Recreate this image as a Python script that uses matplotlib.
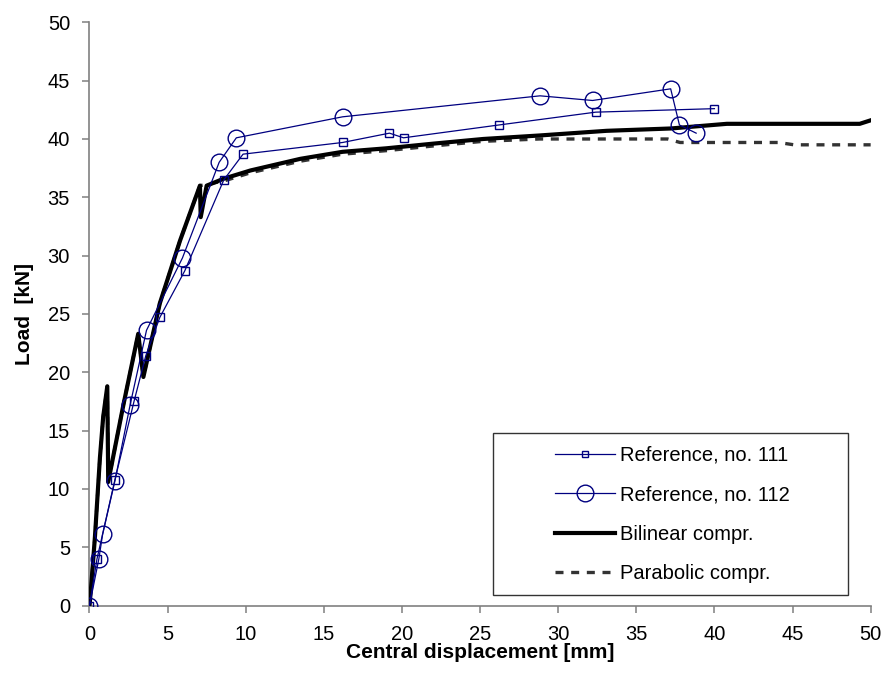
import numpy as np
import matplotlib.pyplot as plt
from matplotlib.patches import Rectangle
from matplotlib.lines import Line2D

plt.rcParams['font.family'] = ['Liberation Sans', 'DejaVu Sans']

# Ensayo de referencia no. 111 (cuadrados)
x111 = [0, 0.48, 1.63, 2.85, 3.6, 4.5, 6.1, 8.6, 9.83, 16.2, 19.2, 20.1, 26.2, 32.4, 40.0]
y111 = [0, 4.0, 10.8, 17.5, 21.4, 24.7, 28.7, 36.5, 38.7, 39.7, 40.5, 40.1, 41.2, 42.3, 42.6]

# Ensayo de referencia no. 112 (circulos)
x112 = [0, 0.6, 0.84, 1.63, 2.6, 3.65, 5.95, 8.3, 9.4, 16.2, 28.84, 32.2, 37.2, 37.76, 38.83]
y112 = [0, 4.0, 6.1, 10.7, 17.2, 23.6, 29.8, 38.0, 40.1, 41.9, 43.7, 43.3, 44.3, 41.2, 40.5]

# Modelo con compresion bilineal
x_bil = [0, 0.1, 0.35, 0.67, 0.88, 1.14, 1.2, 2.17, 3.12, 3.45, 4.5, 5.8, 7.07, 7.12, 7.5,
         8.6, 10.3, 13.5, 16.2, 19.0, 22.0, 25.2, 28.8, 33.1, 37.2, 40.8, 45.0, 49.3, 50.0]
y_bil = [0, 1.5, 5.9, 12.7, 16.2, 18.8, 10.6, 17.2, 23.3, 19.6, 25.9, 31.3, 36.0, 33.3, 36.0,
         36.6, 37.3, 38.3, 38.9, 39.2, 39.6, 40.0, 40.3, 40.7, 40.9, 41.3, 41.3, 41.3, 41.6]

# Modelo con compresion parabolica
x_par = [0, 0.1, 0.35, 0.67, 0.88, 1.14, 1.2, 2.17, 3.12, 3.45, 4.5, 5.8, 7.07,
         8.6, 10.3, 13.5, 16.2, 19.0, 22.0, 25.2, 28.8, 33.1, 37.0, 37.8, 44.1, 45.1, 50.0]
y_par = [0, 1.5, 5.9, 12.7, 16.2, 18.8, 10.6, 17.2, 23.3, 19.6, 25.9, 31.3, 36.0,
         36.4, 37.1, 38.1, 38.7, 39.0, 39.4, 39.8, 40.0, 40.0, 40.0, 39.7, 39.7, 39.5, 39.5]

azul = '#000080'
gris = '#808080'
guion = (0, (2.4, 2.3))

fig = plt.figure(figsize=(8.85, 6.89), dpi=100)
ax = fig.add_axes([0.1011, 0.121, 0.8827, 0.8466])

ax.plot(x_par, y_par, color='#333333', lw=2.4, ls=guion, zorder=2)
ax.plot(x_bil, y_bil, color='black', lw=3.0, zorder=3)
ax.plot(x111, y111, color=azul, lw=0.9, marker='s', ms=6, mfc='none', mec=azul, mew=1.0, zorder=4)
ax.plot(x112, y112, color=azul, lw=0.9, marker='o', ms=12, mfc='none', mec=azul, mew=1.0, zorder=4)

ax.set_xlim(0, 50)
ax.set_ylim(0, 50)
ax.set_xticks(np.arange(0, 51, 5))
ax.set_yticks(np.arange(0, 51, 5))
for s in ['top', 'right']:
    ax.spines[s].set_visible(False)
for s in ['left', 'bottom']:
    ax.spines[s].set_color(gris)
    ax.spines[s].set_linewidth(1.2)
ax.tick_params(direction='out', length=5, width=1.1, color=gris, labelsize=14.5, pad=9)

ax.set_xlabel('Central displacement [mm]', fontsize=15, fontweight='bold', labelpad=-0.5)
ax.set_ylabel('Load  [kN]', fontsize=15, fontweight='bold', labelpad=10)

# Leyenda
handles = [
    Line2D([], [], color=azul, lw=0.9, marker='s', ms=5, mfc='none', mec=azul),
    Line2D([], [], color=azul, lw=0.9, marker='o', ms=12, mfc='none', mec=azul),
    Line2D([], [], color='black', lw=3.0),
    Line2D([], [], color='#333333', lw=2.4, ls=guion),
]
labels = ['Reference, no. 111', 'Reference, no. 112', 'Bilinear compr.', 'Parabolic compr.']
leg = ax.legend(handles, labels, loc='upper left', bbox_to_anchor=(0.5955, 0.274),
                frameon=False, fontsize=14.5, handlelength=3.0, handletextpad=0.25,
                labelspacing=1.02, borderpad=0, borderaxespad=0)
ax.add_patch(Rectangle((0.5165, 0.018), 0.4545, 0.278, transform=ax.transAxes,
                       fill=False, ec='#333333', lw=1.0, zorder=5, clip_on=False))

fig.savefig('out.png', dpi=100)
